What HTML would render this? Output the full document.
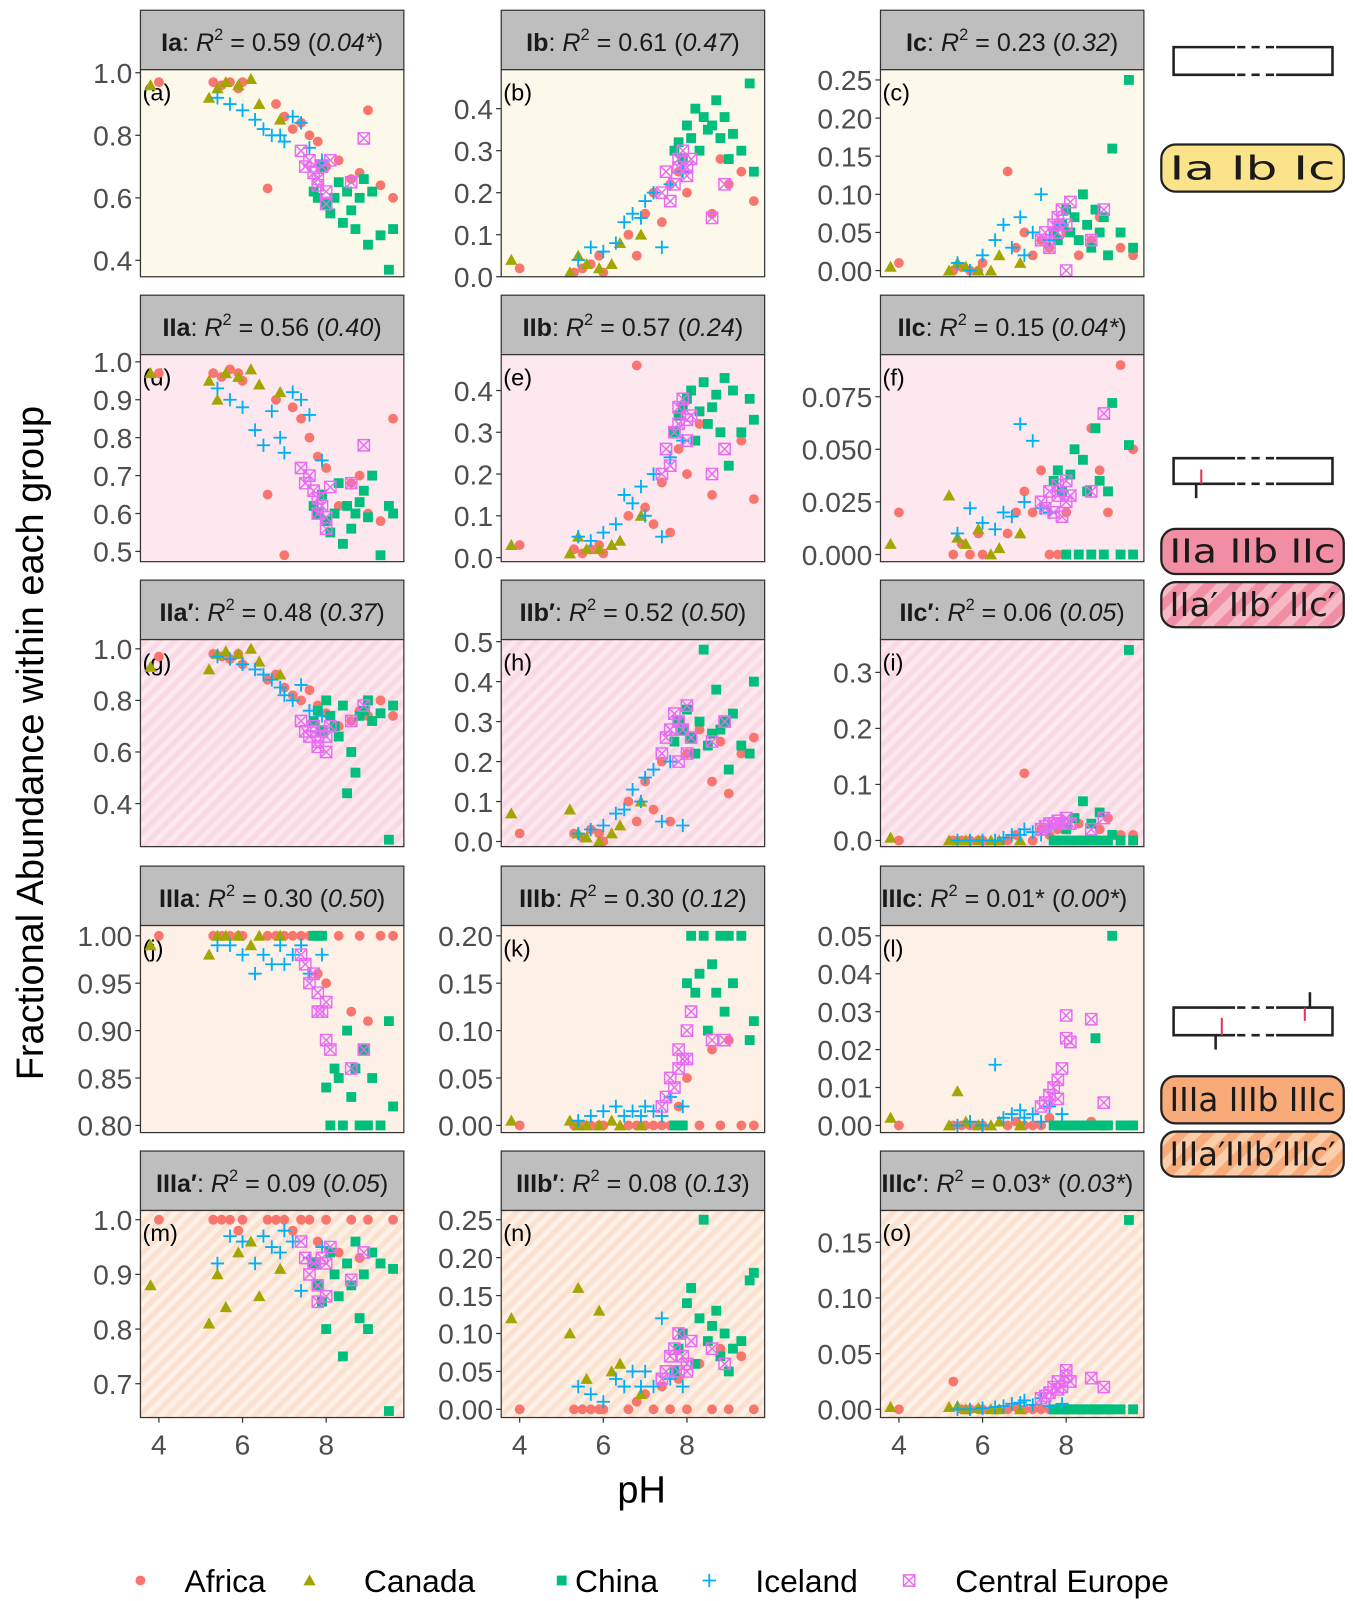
<!DOCTYPE html>
<html><head><meta charset="utf-8"><style>
html,body{margin:0;padding:0;background:#fff;}
svg{display:block;font-family:"Liberation Sans",Arial,sans-serif;}
</style></head><body>
<svg id="chart" width="1353" height="1601" viewBox="0 0 1320 1562" xmlns="http://www.w3.org/2000/svg">
<defs>
<pattern id="stripePink" width="10" height="10" patternUnits="userSpaceOnUse" patternTransform="rotate(45)"><rect width="10" height="10" fill="#fce8ee"/><rect width="5" height="10" fill="#f9d9e3"/></pattern>
<pattern id="stripePeach" width="10" height="10" patternUnits="userSpaceOnUse" patternTransform="rotate(45)"><rect width="10" height="10" fill="#fdf0e6"/><rect width="5" height="10" fill="#fbe1cf"/></pattern>
<pattern id="pillPink" width="18" height="18" patternUnits="userSpaceOnUse" patternTransform="rotate(45)"><rect width="18" height="18" fill="#f28ea3"/><rect width="9" height="18" fill="#f8b9c7"/></pattern>
<pattern id="pillPeach" width="18" height="18" patternUnits="userSpaceOnUse" patternTransform="rotate(45)"><rect width="18" height="18" fill="#f8ab78"/><rect width="9" height="18" fill="#fbcda9"/></pattern>
</defs>
<g id="panels"></g>
<text transform="translate(42,725) rotate(-90)" text-anchor="middle" font-size="37" fill="#000">Fractional Abundance within each group</text>
<text x="626" y="1466" text-anchor="middle" font-size="37" fill="#000">pH</text>
<g id="side"></g>
<g id="legend"></g>
</svg>
<script>
const NS="http://www.w3.org/2000/svg";
const countries=["Africa","Canada","China","Iceland","Central Europe"];
const colors=["#F8766D","#A3A500","#00BF7D","#00B0F6","#E76BF3"];
// shared sample pH per country
const phAfrica=[4.0,5.3,5.5,5.7,5.9,6.0,6.6,6.8,7.0,7.2,7.4,7.6,7.8,8.0,8.3,8.6,8.8,9.0,9.3,9.6];
const phCanada=[3.8,5.2,5.4,5.6,5.9,6.2,6.4,6.9];
const phChina=[7.7,7.8,7.9,8.0,8.1,8.2,8.3,8.4,8.5,8.6,8.7,8.8,8.9,9.0,9.1,9.3,9.5,9.6];
const phIceland=[5.4,5.7,6.0,6.3,6.5,6.7,6.9,7.0,7.2,7.4,7.6,7.9];
const phEurope=[7.4,7.5,7.6,7.7,7.8,7.8,7.9,8.0,8.0,8.1,8.6,8.9];
const phArrays=[phAfrica,phCanada,phChina,phIceland,phEurope];
const xTicks=[4,6,8];
const groupLabels=["Ia","Ib","Ic","IIa","IIb","IIc","IIa′","IIb′","IIc′","IIIa","IIIb","IIIc","IIIa′","IIIb′","IIIc′"];
const r2Values=["0.59","0.61","0.23","0.56","0.57","0.15","0.48","0.52","0.06","0.30","0.30","0.01*","0.09","0.08","0.03*"];
const r2Paren=["0.04*","0.47","0.32","0.40","0.24","0.04*","0.37","0.50","0.05","0.50","0.12","0.00*","0.05","0.13","0.03*"];
const panelTags=["a","b","c","d","e","f","g","h","i","j","k","l","m","n","o"];
const yTicks=[[0.4,0.6,0.8,1.0],[0,0.1,0.2,0.3,0.4],[0,0.05,0.1,0.15,0.2,0.25],
[0.5,0.6,0.7,0.8,0.9,1.0],[0,0.1,0.2,0.3,0.4],[0,0.025,0.05,0.075],
[0.4,0.6,0.8,1.0],[0,0.1,0.2,0.3,0.4,0.5],[0,0.1,0.2,0.3],
[0.8,0.85,0.9,0.95,1.0],[0,0.05,0.1,0.15,0.2],[0,0.01,0.02,0.03,0.04,0.05],
[0.7,0.8,0.9,1.0],[0,0.05,0.1,0.15,0.2,0.25],[0,0.05,0.1,0.15]];
const yDecimals=[1,1,2,1,1,3,1,1,1,2,2,2,1,2,2];
const yA=[[0.97,0.97,0.96,0.97,0.95,0.97,0.63,0.90,0.86,0.82,0.84,0.80,0.78,0.70,0.72,0.66,0.68,0.88,0.64,0.60],[0.96,0.92,0.95,0.97,0.96,0.98,0.90,0.85],[0.62,0.60,0.70,0.58,0.55,0.60,0.65,0.52,0.62,0.56,0.50,0.60,0.66,0.45,0.62,0.48,0.37,0.50],[0.92,0.90,0.88,0.85,0.82,0.80,0.80,0.78,0.86,0.84,0.76,0.72],[0.75,0.70,0.72,0.68,0.66,0.64,0.70,0.62,0.58,0.72,0.65,0.79]];
const yB=[[0.02,0.01,0.02,0.03,0.05,0.01,0.10,0.05,0.15,0.20,0.13,0.22,0.25,0.20,0.30,0.15,0.28,0.22,0.25,0.18],[0.04,0.01,0.05,0.03,0.02,0.03,0.08,0.10],[0.30,0.32,0.28,0.36,0.33,0.40,0.30,0.38,0.35,0.36,0.42,0.33,0.38,0.28,0.34,0.30,0.46,0.25],[0.04,0.07,0.06,0.08,0.13,0.15,0.14,0.18,0.20,0.07,0.22,0.25],[0.20,0.25,0.18,0.22,0.26,0.28,0.30,0.26,0.24,0.28,0.14,0.22]];
const yC=[[0.01,0.0,0.005,0.0,0.0,0.01,0.13,0.03,0.05,0.02,0.04,0.03,0.06,0.05,0.02,0.04,0.07,0.02,0.03,0.02],[0.005,0.0,0.01,0.005,0.0,0.0,0.02,0.01],[0.05,0.04,0.06,0.08,0.05,0.07,0.04,0.10,0.06,0.03,0.08,0.05,0.07,0.02,0.16,0.05,0.25,0.03],[0.01,0.0,0.02,0.04,0.06,0.03,0.07,0.02,0.05,0.10,0.04,0.06],[0.04,0.05,0.03,0.06,0.07,0.05,0.08,0.06,0.0,0.09,0.04,0.08]];
const yD=[[0.97,0.97,0.96,0.98,0.97,0.95,0.65,0.90,0.49,0.88,0.85,0.80,0.75,0.72,0.62,0.68,0.70,0.60,0.58,0.85],[0.97,0.95,0.90,0.97,0.96,0.98,0.94,0.92],[0.62,0.60,0.65,0.58,0.55,0.60,0.68,0.52,0.62,0.56,0.60,0.63,0.66,0.59,0.70,0.49,0.62,0.60],[0.93,0.90,0.88,0.82,0.78,0.87,0.80,0.76,0.92,0.90,0.86,0.74],[0.72,0.68,0.70,0.66,0.64,0.60,0.62,0.59,0.56,0.67,0.68,0.78]];
const yE=[[0.03,0.02,0.01,0.02,0.03,0.01,0.10,0.46,0.12,0.08,0.18,0.06,0.26,0.20,0.32,0.15,0.30,0.22,0.28,0.14],[0.03,0.01,0.05,0.02,0.02,0.03,0.04,0.10],[0.30,0.34,0.36,0.38,0.40,0.28,0.35,0.42,0.32,0.36,0.39,0.30,0.43,0.22,0.40,0.30,0.38,0.33],[0.05,0.04,0.06,0.08,0.15,0.13,0.17,0.10,0.20,0.05,0.24,0.28],[0.20,0.26,0.22,0.30,0.32,0.36,0.38,0.33,0.28,0.34,0.20,0.26]];
const yF=[[0.02,0.0,0.005,0.0,0.01,0.0,0.01,0.02,0.03,0.02,0.04,0.0,0.0,0.02,0.0,0.06,0.04,0.02,0.09,0.05],[0.005,0.028,0.008,0.005,0.012,0.0,0.003,0.01],[0.035,0.04,0.03,0.0,0.038,0.05,0.0,0.045,0.03,0.0,0.06,0.035,0.0,0.03,0.072,0.0,0.052,0.0],[0.01,0.022,0.015,0.012,0.02,0.018,0.062,0.025,0.054,0.022,0.02,0.03],[0.025,0.022,0.03,0.02,0.028,0.033,0.018,0.035,0.025,0.028,0.03,0.067]];
const yG=[[0.97,0.98,0.97,0.96,0.98,0.94,0.88,0.90,0.85,0.82,0.80,0.84,0.78,0.75,0.70,0.72,0.76,0.74,0.80,0.74],[0.93,0.92,0.98,0.99,0.98,1.0,0.95,0.90],[0.72,0.76,0.68,0.80,0.74,0.70,0.66,0.78,0.44,0.60,0.52,0.74,0.76,0.80,0.72,0.75,0.26,0.78],[0.97,0.96,0.94,0.92,0.90,0.88,0.85,0.82,0.80,0.86,0.76,0.74],[0.72,0.68,0.66,0.70,0.64,0.62,0.68,0.60,0.66,0.70,0.72,0.78]];
const yH=[[0.02,0.02,0.01,0.03,0.02,0.0,0.10,0.05,0.15,0.08,0.20,0.05,0.30,0.22,0.28,0.15,0.25,0.12,0.22,0.26],[0.07,0.08,0.02,0.01,0.0,0.02,0.04,0.10],[0.25,0.30,0.28,0.33,0.26,0.22,0.30,0.48,0.24,0.27,0.38,0.28,0.30,0.18,0.32,0.24,0.22,0.40],[0.02,0.03,0.04,0.07,0.08,0.13,0.10,0.16,0.18,0.05,0.20,0.04],[0.22,0.26,0.28,0.32,0.30,0.20,0.28,0.34,0.22,0.26,0.25,0.30]];
const yI=[[0.0,0.0,0.0,0.0,0.0,0.0,0.0,0.01,0.12,0.0,0.02,0.01,0.02,0.0,0.03,0.0,0.02,0.04,0.01,0.01],[0.005,0.0,0.0,0.0,0.0,0.0,0.0,0.0],[0.0,0.0,0.0,0.02,0.0,0.04,0.0,0.07,0.0,0.03,0.0,0.05,0.0,0.0,0.01,0.0,0.34,0.0],[0.0,0.0,0.0,0.0,0.005,0.01,0.01,0.02,0.015,0.01,0.02,0.03],[0.02,0.025,0.03,0.03,0.035,0.03,0.03,0.04,0.03,0.03,0.02,0.04]];
const yJ=[[1.0,1.0,1.0,1.0,1.0,1.0,1.0,1.0,1.0,1.0,1.0,1.0,0.96,0.95,1.0,0.92,1.0,0.91,1.0,1.0],[0.99,0.98,1.0,1.0,1.0,0.99,1.0,1.0],[1.0,1.0,1.0,0.84,0.80,0.86,0.85,0.80,0.90,0.83,0.86,0.80,0.88,0.80,0.85,0.80,0.91,0.82],[0.99,0.99,0.98,0.96,0.98,0.97,0.99,0.97,0.98,0.99,0.96,0.98],[0.98,0.97,0.95,0.96,0.92,0.94,0.92,0.93,0.89,0.88,0.86,0.88]];
const yK=[[0.0,0.0,0.0,0.0,0.0,0.0,0.0,0.0,0.0,0.0,0.0,0.0,0.02,0.05,0.0,0.08,0.0,0.09,0.0,0.0],[0.005,0.005,0.0,0.0,0.0,0.005,0.0,0.0],[0.0,0.0,0.0,0.15,0.20,0.14,0.16,0.20,0.10,0.17,0.14,0.20,0.12,0.20,0.15,0.20,0.09,0.11],[0.005,0.01,0.015,0.02,0.01,0.015,0.01,0.02,0.015,0.01,0.03,0.02],[0.02,0.03,0.05,0.04,0.08,0.06,0.07,0.07,0.10,0.12,0.09,0.09]];
const yL=[[0.0,0.0,0.0,0.0,0.0,0.0,0.0,0.001,0.0,0.0,0.0,0.002,0.0,0.0,0.0,0.001,0.0,0.0,0.0,0.0],[0.002,0.0,0.009,0.001,0.0,0.0,0.001,0.0],[0.0,0.0,0.0,0.0,0.0,0.0,0.0,0.0,0.0,0.0,0.023,0.0,0.0,0.0,0.05,0.0,0.0,0.0],[0.0,0.001,0.0,0.016,0.002,0.003,0.004,0.002,0.003,0.001,0.005,0.003],[0.005,0.006,0.008,0.01,0.012,0.007,0.015,0.023,0.029,0.022,0.028,0.006]];
const yM=[[1.0,1.0,1.0,1.0,0.98,1.0,1.0,1.0,1.0,0.98,1.0,1.0,0.96,1.0,0.94,1.0,0.93,1.0,0.92,1.0],[0.88,0.81,0.90,0.84,0.94,0.96,0.86,0.91],[0.92,0.88,0.85,0.80,0.94,0.90,0.86,0.75,0.92,0.88,0.96,0.82,0.90,0.80,0.94,0.92,0.65,0.91],[0.92,0.97,0.96,0.92,0.97,0.95,0.94,0.98,0.96,0.87,0.93,0.95],[0.96,0.93,0.90,0.92,0.88,0.85,0.93,0.86,0.92,0.95,0.89,0.94]];
const yN=[[0.0,0.0,0.0,0.0,0.0,0.0,0.0,0.01,0.02,0.0,0.03,0.0,0.04,0.0,0.06,0.0,0.08,0.0,0.07,0.0],[0.12,0.10,0.16,0.04,0.13,0.05,0.06,0.02],[0.05,0.08,0.10,0.14,0.16,0.06,0.12,0.25,0.09,0.11,0.13,0.07,0.10,0.05,0.08,0.09,0.17,0.18],[0.03,0.02,0.01,0.04,0.03,0.05,0.03,0.05,0.03,0.12,0.04,0.03],[0.04,0.05,0.07,0.08,0.10,0.05,0.07,0.06,0.05,0.09,0.08,0.06]];
const yO=[[0.0,0.025,0.0,0.0,0.0,0.0,0.0,0.002,0.0,0.0,0.0,0.0,0.0,0.0,0.0,0.0,0.0,0.0,0.0,0.0],[0.002,0.002,0.003,0.0,0.001,0.0,0.0,0.0],[0.0,0.0,0.0,0.0,0.0,0.0,0.0,0.0,0.0,0.0,0.0,0.0,0.0,0.0,0.0,0.0,0.17,0.0],[0.0,0.0,0.001,0.002,0.003,0.005,0.006,0.008,0.004,0.01,0.003,0.005],[0.01,0.012,0.015,0.02,0.025,0.018,0.02,0.03,0.035,0.025,0.028,0.02]];
const yData=[yA,yB,yC,yD,yE,yF,yG,yH,yI,yJ,yK,yL,yM,yN,yO];

const colX=[137,489,859], PW=257, stripTops=[10,288,566,845,1123], SH=58, PH=202;
const yCal=[[0.4,186,1.0,3],[0,202,0.4,38],[0,196,0.25,10],[0.5,192,1.0,7],[0,198,0.4,35],[0,195,0.075,41],
[0.4,160,1.0,9],[0,197,0.5,2],[0,196,0.3,32],[0.8,195,1.0,10],[0,195,0.2,10],[0,195,0.05,10],[0.7,169,1.0,9],[0,194,0.25,9],[0,194,0.15,31]];
const rowFill=["#fdf9ea","#fce8ee","url(#stripePink)","#fdf0e6","url(#stripePeach)"];

function el(tag,attrs,parent){const e=document.createElementNS(NS,tag);for(const k in attrs)e.setAttribute(k,attrs[k]);if(parent)parent.appendChild(e);return e;}
function marker(g,k,x,y,s){
  const c=colors[k];let m;
  if(k===0){m=el("circle",{cx:x,cy:y,r:4.8*s,fill:c},g);}
  else if(k===1){const h=6*s;m=el("polygon",{points:`${x},${y-h} ${x-h},${y+h*0.8} ${x+h},${y+h*0.8}`,fill:c},g);}
  else if(k===2){const h=4.8*s;m=el("rect",{x:x-h,y:y-h,width:2*h,height:2*h,fill:c},g);}
  else if(k===3){const h=6.5*s;m=el("path",{d:`M${x-h},${y}H${x+h}M${x},${y-h}V${y+h}`,stroke:c,"stroke-width":1.8,fill:"none"},g);}
  else {const h=5.5*s;m=el("path",{d:`M${x-h},${y-h}h${2*h}v${2*h}h${-2*h}zM${x-h},${y-h}L${x+h},${y+h}M${x+h},${y-h}L${x-h},${y+h}`,stroke:c,"stroke-width":1.4,fill:"none"},g);}
  return m;
}
const root=document.getElementById("panels");
for(let p=0;p<15;p++){
  const r=Math.floor(p/3),c=p%3;const x0=colX[c],st=stripTops[r],top=st+SH;
  const cal=yCal[p];
  const ys=v=>top+cal[1]+(v-cal[0])*(cal[3]-cal[1])/(cal[2]-cal[0]);
  const xs=v=>x0+18+(v-4)*40.8;
  const g=el("g",{},root);
  
  
  const cp=el("clipPath",{id:"clip"+p},g);el("rect",{x:x0,y:st,width:PW,height:SH},cp);
  const strip=el("rect",{x:x0,y:st,width:PW,height:SH,fill:"#bebebe",stroke:"#333","stroke-width":1.2},g);
  
  
  const tg=el("g",{"clip-path":`url(#clip${p})`},g);
  const t=el("text",{x:x0+PW/2,y:st+40,"text-anchor":"middle","font-size":24.5,fill:"#1a1a1a"},tg);
  
  
  t.innerHTML=`<tspan font-weight="bold">${groupLabels[p]}</tspan>: <tspan font-style="italic">R</tspan><tspan font-size="16" dy="-11">2</tspan><tspan dy="11"> = ${r2Values[p]} (</tspan><tspan font-style="italic">${r2Paren[p]}</tspan>)`;
  if(p===11||p===14){t.setAttribute("text-anchor","start");t.setAttribute("x",x0+1);}
  el("rect",{x:x0,y:top,width:PW,height:PH,fill:rowFill[r]},g);
  const tag=el("text",{x:x0+2,y:top+30,"font-size":23,fill:"#000"},g);tag.textContent="("+panelTags[p]+")";
  
  
  yTicks[p].forEach(v=>{const y=ys(v);
    el("line",{x1:x0-5,x2:x0,y1:y,y2:y,stroke:"#333","stroke-width":1.2},g);
    const lt=el("text",{x:x0-8,y:y+10,"text-anchor":"end","font-size":27.5,fill:"#4d4d4d"},g);lt.textContent=v.toFixed(yDecimals[p]);
    
    
  });
  if(r===4){xTicks.forEach(v=>{const x=xs(v);
    el("line",{x1:x,x2:x,y1:top+PH,y2:top+PH+5,stroke:"#333","stroke-width":1.2},g);
    const lt=el("text",{x:x,y:top+PH+36,"text-anchor":"middle","font-size":27.5,fill:"#4d4d4d"},g);lt.textContent=v;
    
    
  });}
  const pg=el("g",{},g);
  for(let k=0;k<5;k++){const arr=yData[p][k],ph=phArrays[k];
    for(let i=0;i<arr.length;i++){const m=marker(pg,k,xs(ph[i]),ys(arr[i]),1);
      
      }}
  el("rect",{x:x0,y:top,width:PW,height:PH,fill:"none",stroke:"#333","stroke-width":1.2},g);
}
const side=document.getElementById("side");
function schematic(y1,y2){
  el("path",{d:`M1205,${y1}H1145V${y2}H1205M1245,${y1}H1300V${y2}H1245`,stroke:"#222","stroke-width":2.5,fill:"none"},side);
  el("path",{d:`M1207,${y1}H1245M1207,${y2}H1245`,stroke:"#222","stroke-width":2.5,"stroke-dasharray":"8,6",fill:"none"},side);
}
schematic(46,73);schematic(447,472);schematic(983,1010);
el("path",{d:"M1172,458V472",stroke:"#e8334d","stroke-width":2},side);
el("path",{d:"M1167,472V486",stroke:"#222","stroke-width":2.5},side);
el("path",{d:"M1192,993V1010",stroke:"#e8334d","stroke-width":2},side);
el("path",{d:"M1186,1010V1024",stroke:"#222","stroke-width":2.5},side);
el("path",{d:"M1273,983V996",stroke:"#e8334d","stroke-width":2},side);
el("path",{d:"M1278,968V983",stroke:"#222","stroke-width":2.5},side);
function pill(y,h,fill,label,name){
  const r=el("rect",{x:1133,y:y,width:178,height:h,rx:14,fill:fill,stroke:"#222","stroke-width":2.2},side);
  
  
  const t=el("text",{x:1222,y:y+h/2+11,"text-anchor":"middle","font-size":32,fill:"#1a1a1a","font-family":"DejaVu Sans, sans-serif",textLength:162,lengthAdjust:"spacingAndGlyphs"},side);
  t.setAttribute("xml:space","preserve");t.textContent=label;
  
  
}
pill(141,46,"#fbe38b","Ia   Ib   Ic","pill-group-i");
pill(516,44,"#f28ea3","IIa IIb IIc","pill-group-ii");
pill(568,44,"url(#pillPink)","IIa′ IIb′ IIc′","pill-group-ii-prime");
pill(1050,46,"#f8ab78","IIIa IIIb IIIc","pill-group-iii");
pill(1104,44,"url(#pillPeach)","IIIa′IIIb′IIIc′","pill-group-iii-prime");
const lg=document.getElementById("legend");
const legX=[137,302,548,692,887], legTX=[180,355,561,737,932];
for(let k=0;k<5;k++){
  const g=el("g",{},lg);
  
  
  marker(g,k,legX[k],1542,1);
  const t=el("text",{x:legTX[k],y:1553,"font-size":31,fill:"#000"},g);t.textContent=countries[k];
}
</script>
</body></html>
